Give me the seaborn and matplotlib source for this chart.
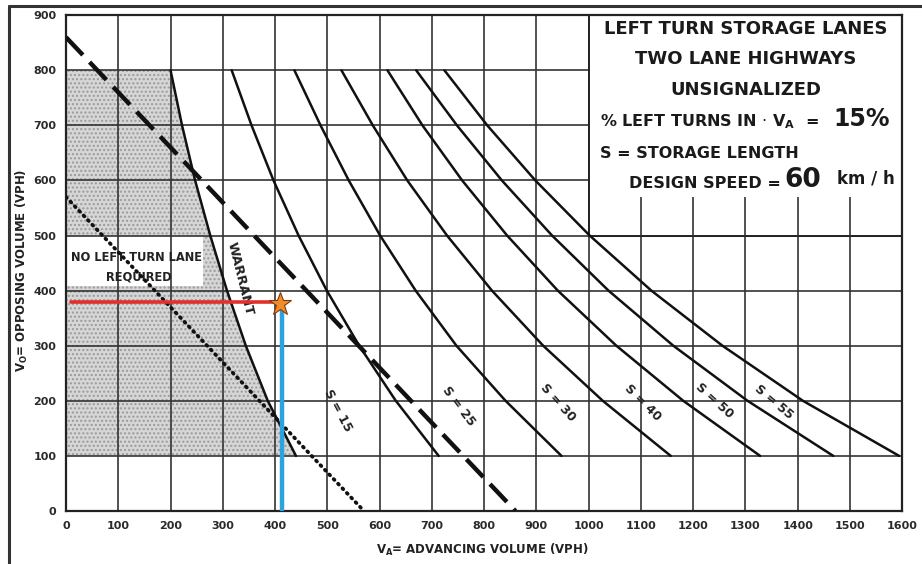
import numpy as np
import pandas as pd
import seaborn as sns
import matplotlib.pyplot as plt
from matplotlib.patches import Rectangle
from matplotlib.lines import Line2D

# opposing volume levels where the curves were read (vph)
y_levels = [800, 700, 600, 500, 400, 300, 200, 100]

# advancing volume of each curve at those levels (vph)
warrant_x = [200, 222, 247, 276, 308, 344, 386, 440]
s15_x = [317, 355, 397, 445, 499, 561, 631, 713]
s25_x = [437, 487, 541, 601, 669, 747, 841, 948]
s30_x = [527, 587, 653, 729, 815, 913, 1027, 1157]
s40_x = [615, 682, 758, 844, 941, 1053, 1181, 1328]
s50_x = [670, 748, 834, 930, 1038, 1162, 1304, 1468]
s55_x = [724, 806, 898, 1002, 1120, 1256, 1410, 1594]

storage = ["15", "25", "30", "40", "50", "55"]
storage_x = [s15_x, s25_x, s30_x, s40_x, s50_x, s55_x]
# where the S labels sit, and their slant
label_x = [521, 751, 942, 1103, 1240, 1355]
label_y = [183, 190, 197, 197, 200, 197]
label_rot = [-62, -53, -48, -45, -42, -40]

# straight guide lines
dashed_x = [0, 860]
dashed_y = [860, 0]
dotted_x = [0, 570]
dotted_y = [570, 0]

# worked example
va_example = 410
vo_example = 376

df = pd.DataFrame({"vo": y_levels * 6,
                   "va": sum(storage_x, []),
                   "S": np.repeat(storage, len(y_levels))})

sns.set_theme(style="white")
plt.rcParams["font.family"] = ["DejaVu Sans"]
plt.rcParams["mathtext.fontset"] = "dejavusans"

fig = plt.figure(figsize=(9.22, 5.64), dpi=100)
ax = fig.add_axes([0.0716, 0.094, 0.907, 0.879])

ax.set_xlim(0, 1600)
ax.set_ylim(0, 900)
ax.set_xticks(np.arange(0, 1700, 100))
ax.set_yticks(np.arange(0, 1000, 100))
ax.set_axisbelow(True)
ax.grid(True, color="#333333", lw=1.2)
for sp in ax.spines.values():
    sp.set_color("#222222")
    sp.set_linewidth(1.6)
ax.tick_params(length=0, pad=7, labelsize=8, labelcolor="#2a2a2a")
for t in ax.get_xticklabels() + ax.get_yticklabels():
    t.set_fontweight("bold")

# shaded "no lane required" zone
ax.fill_betweenx(y_levels, 0, warrant_x, facecolor="#d6d6d6", hatch="....",
                 edgecolor="#9a9a9a", linewidth=0, zorder=0.2)
ax.add_patch(Rectangle((0, 408), 262, 92, facecolor="white", edgecolor="none", zorder=0.3))
ax.text(135, 461, "NO LEFT TURN LANE", ha="center", va="center", fontsize=8.3,
        fontweight="bold", color="#222222", zorder=3)
ax.text(140, 425, "REQUIRED", ha="center", va="center", fontsize=8.3,
        fontweight="bold", color="#222222", zorder=3)

# curves
sns.lineplot(data=df, x="va", y="vo", units="S", estimator=None, sort=False,
             color="#111111", lw=1.8, ax=ax, zorder=3, legend=False)
sns.lineplot(x=warrant_x, y=y_levels, sort=False, color="#111111", lw=1.8, ax=ax, zorder=3)
ax.plot(dashed_x, dashed_y, color="#111111", lw=3.2, ls=(0, (5.5, 2.2)), zorder=3)
ax.plot(dotted_x, dotted_y, color="#111111", lw=2.7, ls=(0, (0.3, 1.4)),
        dash_capstyle="round", zorder=3)

ax.text(333, 421, "WARRANT", rotation=-76, ha="center", va="center", fontsize=9.5,
        fontweight="bold", color="#222222", zorder=3, rotation_mode="anchor")
for s, lx, ly, r in zip(storage, label_x, label_y, label_rot):
    ax.text(lx, ly, "S = " + s, rotation=r, ha="center", va="center", fontsize=9,
            fontweight="bold", color="#222222", zorder=3, rotation_mode="anchor")

# title block
ax.add_patch(Rectangle((1000, 500), 600, 400, facecolor="white", edgecolor="#222222",
                       lw=1.4, zorder=1))
ax.vlines(np.arange(1100, 1600, 100), 500, 570, color="#333333", lw=1.2, zorder=1.5)
tkw = dict(fontweight="bold", color="#1a1a1a", zorder=3, va="center")
ax.text(1301, 875, "LEFT TURN STORAGE LANES", ha="center", fontsize=13, **tkw)
ax.text(1301, 821, "TWO LANE HIGHWAYS", ha="center", fontsize=13, **tkw)
ax.text(1301, 765, "UNSIGNALIZED", ha="center", fontsize=13, **tkw)
ax.text(1021, 707, r"% LEFT TURNS IN $\cdot$ V$_\mathbf{A}$  =", ha="left", fontsize=11.5, **tkw)
ax.text(1469, 712, "15%", ha="left", fontsize=17, **tkw)
ax.text(1021, 649, "S = STORAGE LENGTH", ha="left", fontsize=11.5, **tkw)
ax.text(1078, 595, "DESIGN SPEED =", ha="left", fontsize=11.5, **tkw)
ax.text(1375, 600, "60", ha="left", fontsize=19, **tkw)
ax.text(1475, 603, "km / h", ha="left", fontsize=12, **tkw)

# worked example
ax.plot([10, va_example], [vo_example + 3, vo_example + 3], color="#e3302b", lw=2.6, zorder=4)
ax.plot([va_example + 3, va_example + 3], [0, vo_example], color="#2aa3df", lw=3.2, zorder=4)
ax.plot([va_example], [vo_example], marker="*", ms=17, mfc="#f28c28", mec="#7a3d10",
        mew=0.8, zorder=5)

ax.set_xlabel(r"V$_\mathbf{A}$= ADVANCING VOLUME (VPH)", fontsize=8.5, fontweight="bold",
              color="#222222")
ax.set_ylabel(r"V$_\mathbf{O}$= OPPOSING VOLUME (VPH)", fontsize=8.5, fontweight="bold",
              color="#222222")
ax.xaxis.set_label_coords(0.498, -0.062)
ax.yaxis.set_label_coords(-0.043, 0.486)

# scan frame edges
fig.add_artist(Line2D([9 / 922, 9 / 922], [0, 1 - 6 / 564], transform=fig.transFigure,
                      color="#333333", lw=2.2))
fig.add_artist(Line2D([9 / 922, 1], [1 - 6 / 564, 1 - 6 / 564], transform=fig.transFigure,
                      color="#333333", lw=2.2))

fig.savefig("out.png", dpi=100, facecolor="white")
